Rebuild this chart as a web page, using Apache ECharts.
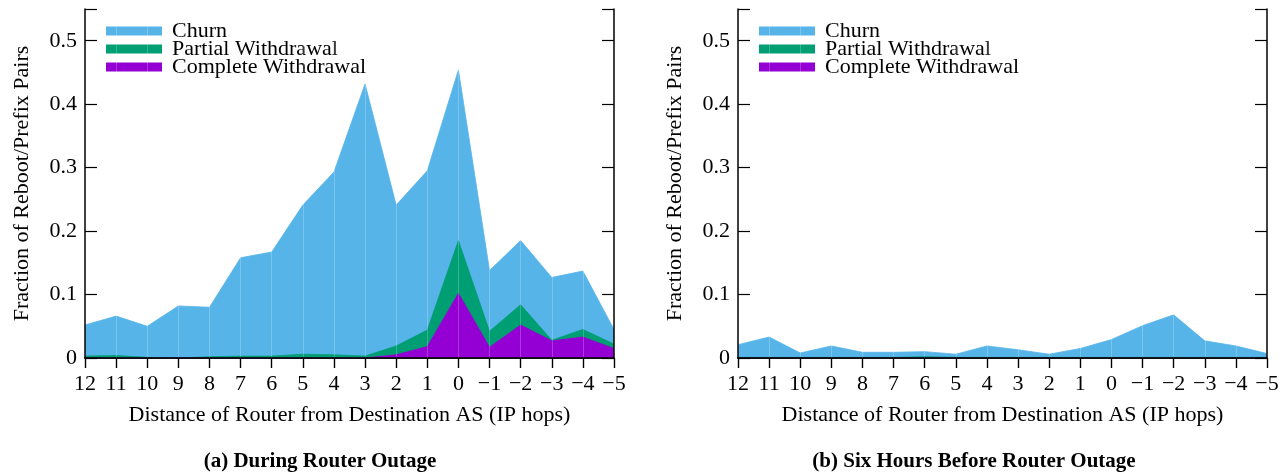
<!DOCTYPE html>
<html>
<head>
<meta charset="utf-8">
<script src="https://cdn.jsdelivr.net/npm/echarts@6/dist/echarts.min.js"></script>
<style>
  html, body { margin: 0; padding: 0; background: #fff; }
  #chart { width: 1286px; height: 473px; }
</style>
</head>
<body>
<div id="chart"></div>
<script>
// hops from destination AS, 12 down to -5
const hops = ['12', '11', '10', '9', '8', '7', '6', '5', '4', '3', '2', '1', '0',
  '\u22121', '\u22122', '\u22123', '\u22124', '\u22125']

// (a) during outage
const churnA = [0.052, 0.066, 0.050, 0.082, 0.080, 0.158, 0.167, 0.241, 0.293, 0.432,
  0.241, 0.295, 0.454, 0.138, 0.185, 0.127, 0.137, 0.045]
const partialA = [0.003, 0.004, 0.001, 0.000, 0.002, 0.003, 0.003, 0.006, 0.005, 0.003,
  0.019, 0.044, 0.185, 0.042, 0.084, 0.028, 0.045, 0.022]
const completeA = [0, 0, 0, 0, 0, 0, 0, 0, 0, 0,
  0.005, 0.018, 0.102, 0.017, 0.052, 0.027, 0.033, 0.015]

// (b) six hours before
const churnB = [0.021, 0.033, 0.008, 0.019, 0.009, 0.009, 0.010, 0.006, 0.019, 0.013,
  0.006, 0.015, 0.029, 0.051, 0.068, 0.027, 0.019, 0.007]
const partialB = [0.001, 0.001, 0.001, 0.001, 0.001, 0.001, 0.002, 0.001, 0.001, 0.001,
  0.001, 0.001, 0.001, 0.001, 0.001, 0.001, 0.001, 0.001]
const completeB = [0, 0, 0, 0, 0, 0, 0, 0, 0, 0, 0, 0, 0, 0, 0, 0, 0, 0]

const names = ['Churn', 'Partial Withdrawal', 'Complete Withdrawal']
const colors = ['#56B4E9', '#009E73', '#9400D3']

const FONT = 'Liberation Serif'
const grids = [
  { left: 85, right: 672, top: 9, bottom: 115 },
  { left: 738, right: 19, top: 9, bottom: 115 },
]

const xAxes = []
const yAxes = []
grids.forEach((g, i) => {
  // bottom axis with labels
  xAxes.push({
    type: 'category', gridIndex: i, data: hops, boundaryGap: false, position: 'bottom',
    axisLine: { lineStyle: { color: '#000', width: 1.5 } },
    axisTick: { inside: false, length: 10, lineStyle: { color: '#000', width: 1.2 } },
    axisLabel: { color: '#000', fontFamily: FONT, fontSize: 22, margin: 15 },
    name: 'Distance of Router from Destination AS (IP hops)',
    nameLocation: 'middle', nameGap: 46,
    nameTextStyle: { color: '#000', fontFamily: FONT, fontSize: 22 },
  })
  // mirrored top axis, also draws faint seams over the areas
  xAxes.push({
    type: 'category', gridIndex: i, data: hops, boundaryGap: false, position: 'top', z: 5,
    axisLine: { lineStyle: { color: '#000', width: 1.5 } },
    axisTick: { inside: true, length: 10, lineStyle: { color: '#000', width: 1.2 } },
    axisLabel: { show: false },
    splitLine: { show: true, lineStyle: { color: 'rgba(255,255,255,0.22)', width: 1 } },
  })
  yAxes.push({
    type: 'value', gridIndex: i, min: 0, max: 0.55, interval: 0.1, position: 'left', z: 10,
    axisLine: { show: true, lineStyle: { color: '#000', width: 1.5 } },
    axisTick: { show: true, inside: true, length: 12, lineStyle: { color: '#000', width: 1.2 } },
    axisLabel: {
      color: '#000', fontFamily: FONT, fontSize: 22, margin: 8,
      formatter: (v) => (v > 0.51 ? '' : String(Math.round(v * 10) / 10)),
    },
    splitLine: { show: false },
    name: 'Fraction of Reboot/Prefix Pairs',
    nameLocation: 'middle', nameGap: 52,
    nameTextStyle: { color: '#000', fontFamily: FONT, fontSize: 22 },
  })
  yAxes.push({
    type: 'value', gridIndex: i, min: 0, max: 0.55, interval: 0.1, position: 'right', z: 10,
    axisLine: { show: true, lineStyle: { color: '#000', width: 1.5 } },
    axisTick: { show: true, inside: true, length: 12, lineStyle: { color: '#000', width: 1.2 } },
    axisLabel: { show: false },
    splitLine: { show: false },
  })
})

function areaSeries(name, data, color, gi) {
  return {
    name, type: 'line', data,
    xAxisIndex: gi * 2, yAxisIndex: gi * 2,
    symbol: 'none', smooth: false, legendIcon: 'rect',
    lineStyle: { width: 0.8, color },
    itemStyle: { color },
    areaStyle: { color, opacity: 1 },
    silent: true, animation: false,
  }
}

const series = [
  areaSeries(names[0], churnA, colors[0], 0),
  areaSeries(names[1], partialA, colors[1], 0),
  areaSeries(names[2], completeA, colors[2], 0),
  areaSeries(names[0], churnB, colors[0], 1),
  areaSeries(names[1], partialB, colors[1], 1),
  areaSeries(names[2], completeB, colors[2], 1),
]

function legendAt(left) {
  return {
    orient: 'vertical', left, top: 20,
    data: names.map((n, k) => ({
      name: n, icon: 'rect',
      itemStyle: { color: colors[k], borderWidth: 0, borderColor: colors[k] },
    })),
    itemStyle: { borderWidth: 0 },
    lineStyle: { width: 0 },
    itemWidth: 56, itemHeight: 9, itemGap: -4,
    selectedMode: false,
    textStyle: {
      color: '#000', fontFamily: FONT, fontSize: 22,
      padding: [0, 0, 0, 5],
    },
    padding: 0,
  }
}

const captions = [
  { x: 320, text: '(a) During Router Outage' },
  { x: 974, text: '(b) Six Hours Before Router Outage' },
]

const chart = echarts.init(document.getElementById('chart'))
chart.setOption({
  backgroundColor: '#fff',
  animation: false,
  grid: grids,
  xAxis: xAxes,
  yAxis: yAxes,
  legend: [legendAt(106), legendAt(759)],
  series,
  graphic: captions.map((c) => ({
    type: 'text', x: c.x, y: 462,
    style: {
      text: c.text, fill: '#000', fontFamily: FONT, fontWeight: 'bold', fontSize: 21,
      textAlign: 'center', textVerticalAlign: 'middle',
    },
  })),
})
</script>
</body>
</html>
